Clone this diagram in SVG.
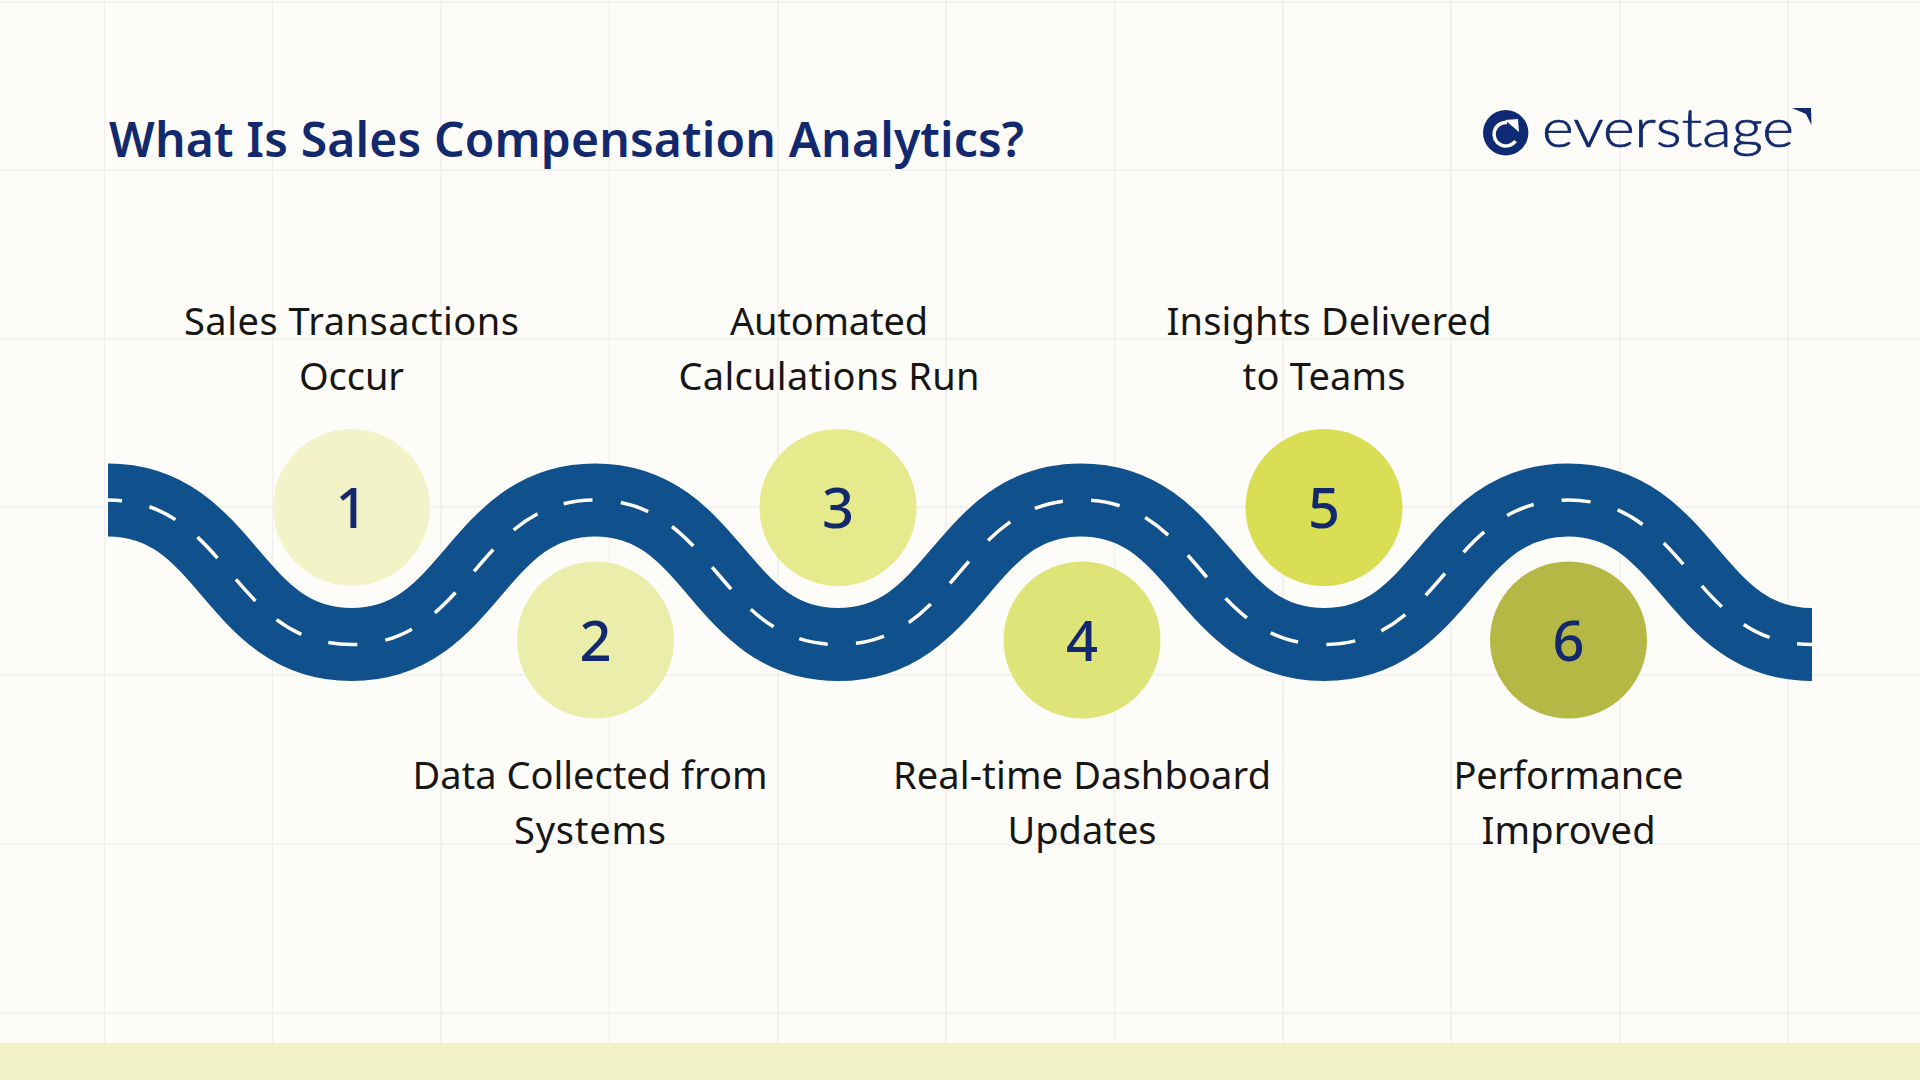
<svg xmlns="http://www.w3.org/2000/svg" width="1920" height="1080" viewBox="0 0 1920 1080">
<style>
.grid line{stroke:#f0efeb;stroke-width:1.500}
.label{font-family:"Noto Sans","Liberation Sans",sans-serif;font-size:38px;fill:#161615;text-anchor:middle}
.num{font-family:"Noto Sans","Liberation Sans",sans-serif;font-size:56px;font-weight:500;fill:#12296e;text-anchor:middle}
.road{fill:none;stroke:#10508c;stroke-width:73}
.dash{fill:none;stroke:#fffdf8;stroke-width:3.500;stroke-dasharray:29 28.200;stroke-dashoffset:15}
</style>
<defs>
<clipPath id="rc"><rect x="108" y="440" width="1704" height="260"/></clipPath>
<path id="rp" d="M108 500C228 500 231.500 644.500 351.500 644.500C471.500 644.500 475 500 595 500C715 500 718 644.500 838 644.500C958 644.500 961 500 1081 500C1201 500 1204 644.500 1324 644.500C1444 644.500 1448 500 1568 500C1688 500 1692 644.500 1812 644.500"/>
</defs>
<rect width="1920" height="1080" fill="#fdfcf8"/>
<g class="grid">
<line x1="104.500" y1="0" x2="104.500" y2="1043"/><line x1="272.500" y1="0" x2="272.500" y2="1043"/><line x1="441" y1="0" x2="441" y2="1043"/><line x1="609.500" y1="0" x2="609.500" y2="1043"/><line x1="778" y1="0" x2="778" y2="1043"/><line x1="946" y1="0" x2="946" y2="1043"/><line x1="1114.500" y1="0" x2="1114.500" y2="1043"/><line x1="1283" y1="0" x2="1283" y2="1043"/><line x1="1451" y1="0" x2="1451" y2="1043"/><line x1="1620" y1="0" x2="1620" y2="1043"/><line x1="1788" y1="0" x2="1788" y2="1043"/>
<line x1="0" y1="2" x2="1920" y2="2"/><line x1="0" y1="170" x2="1920" y2="170"/><line x1="0" y1="339" x2="1920" y2="339"/><line x1="0" y1="507" x2="1920" y2="507"/><line x1="0" y1="675" x2="1920" y2="675"/><line x1="0" y1="844" x2="1920" y2="844"/><line x1="0" y1="1013" x2="1920" y2="1013"/>
</g>
<rect id="footer" x="0" y="1043" width="1920" height="37" fill="#f2f2c8"/>
<text id="title" x="109" y="157" font-family="'Noto Sans','Liberation Sans',sans-serif" font-size="48" font-weight="600" fill="#12296e" textLength="915">What Is Sales Compensation Analytics?</text>
<g id="logo">
<circle cx="1505.700" cy="132.700" r="22.700" fill="#0f2a75"/>
<path d="M1507 122.500A11.800 11.800 0 1 0 1515.500 141" fill="none" stroke="#fdfcf8" stroke-width="3.500"/>
<path d="M1505 120L1518 119L1519 132Z" fill="#fdfcf8"/>
<text x="1542" y="147" font-family="Lato,'Liberation Sans',sans-serif" font-size="54" font-weight="300" fill="#12296e" stroke="#12296e" stroke-width="0.700" textLength="252" lengthAdjust="spacingAndGlyphs">everstage</text>
<path d="M1792 108L1811 108L1811.500 125L1806 114Z" fill="#12296e"/>
</g>
<g id="connectors" clip-path="url(#rc)">
<use href="#rp" class="road"/>
<use href="#rp" class="dash"/>
</g>
<g id="node1"><circle cx="351.500" cy="507.500" r="78.500" fill="#f2f3c8"/><text class="num" x="351.500" y="528">1</text><text class="label" x="351.500" y="335" textLength="335">Sales Transactions</text><text class="label" x="351.500" y="390" textLength="105">Occur</text></g>
<g id="node2"><circle cx="595.500" cy="640" r="78.500" fill="#eaeeaa"/><text class="num" x="595.500" y="661">2</text><text class="label" x="590" y="789" textLength="355">Data Collected from</text><text class="label" x="590" y="844" textLength="152">Systems</text></g>
<g id="node3"><circle cx="838" cy="507.500" r="78.500" fill="#e6ea8c"/><text class="num" x="838" y="528">3</text><text class="label" x="829" y="335" textLength="198">Automated</text><text class="label" x="829" y="390" textLength="301">Calculations Run</text></g>
<g id="node4"><circle cx="1082" cy="640" r="78.500" fill="#dfe478"/><text class="num" x="1082" y="661">4</text><text class="label" x="1082" y="789" textLength="378">Real-time Dashboard</text><text class="label" x="1082" y="844" textLength="149">Updates</text></g>
<g id="node5"><circle cx="1324" cy="507.500" r="78.500" fill="#d9de55"/><text class="num" x="1324" y="528">5</text><text class="label" x="1329" y="335" textLength="325">Insights Delivered</text><text class="label" x="1324" y="390" textLength="163">to Teams</text></g>
<g id="node6"><circle cx="1568.500" cy="640" r="78.500" fill="#b5b844"/><text class="num" x="1568.500" y="661">6</text><text class="label" x="1568.500" y="789" textLength="230">Performance</text><text class="label" x="1568.500" y="844" textLength="174">Improved</text></g>
</svg>
